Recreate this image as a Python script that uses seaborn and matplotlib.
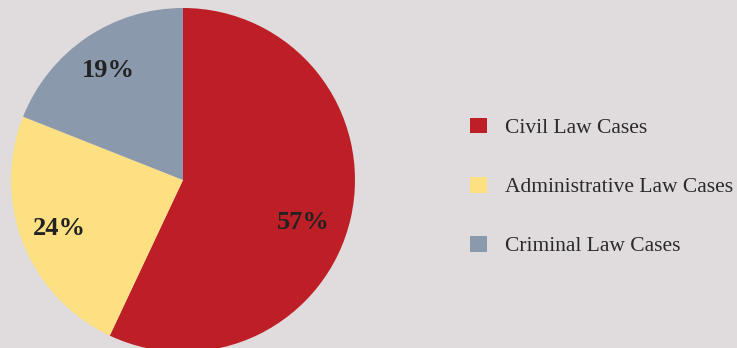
import matplotlib
matplotlib.use("Agg")
import numpy as np
import matplotlib.pyplot as plt
import seaborn as sns
from matplotlib.patches import Patch

categories = ["Civil Law Cases", "Administrative Law Cases", "Criminal Law Cases"]
values = [57, 24, 19]
colors = ["#be1f26", "#fce081", "#8b99ac"]
bg = "#e0dbdd"

sns.set_theme(style="white", rc={"figure.facecolor": bg, "axes.facecolor": bg})
plt.rcParams["font.family"] = ["Liberation Serif", "DejaVu Serif"]

W, H = 737, 348
fig = plt.figure(figsize=(W / 100, H / 100), dpi=100)
cx, cy, r = 183, 180, 172
ax = fig.add_axes([0, 0, 2 * cx / W, 1])
wedges, texts, autotexts = ax.pie(
    values, colors=colors, startangle=90, counterclock=False,
    autopct="%d%%", pctdistance=0.77, radius=1,
    wedgeprops=dict(linewidth=0),
    textprops=dict(fontsize=19, fontweight="bold", color="#222222"),
)
# nudge the large-slice label lower, as in the reference
ang = np.deg2rad(-19.5)
autotexts[0].set_position((0.74 * np.cos(ang), 0.74 * np.sin(ang)))
ax.set_aspect("auto")
ax.set_xlim(-cx / r, cx / r)
ax.set_ylim(-(H - cy) / r, cy / r)
ax.set_facecolor(bg)

handles = [Patch(facecolor=c, edgecolor="none") for c in colors]
fig.legend(handles, categories, loc="center left",
           bbox_to_anchor=(451 / W, 1 - 187 / H), frameon=False,
           fontsize=15.5, handlelength=0.75, handleheight=0.75,
           handletextpad=0.85, labelspacing=1.8, labelcolor="#2a2a2a")

fig.savefig("out.png", dpi=100, facecolor=bg)
